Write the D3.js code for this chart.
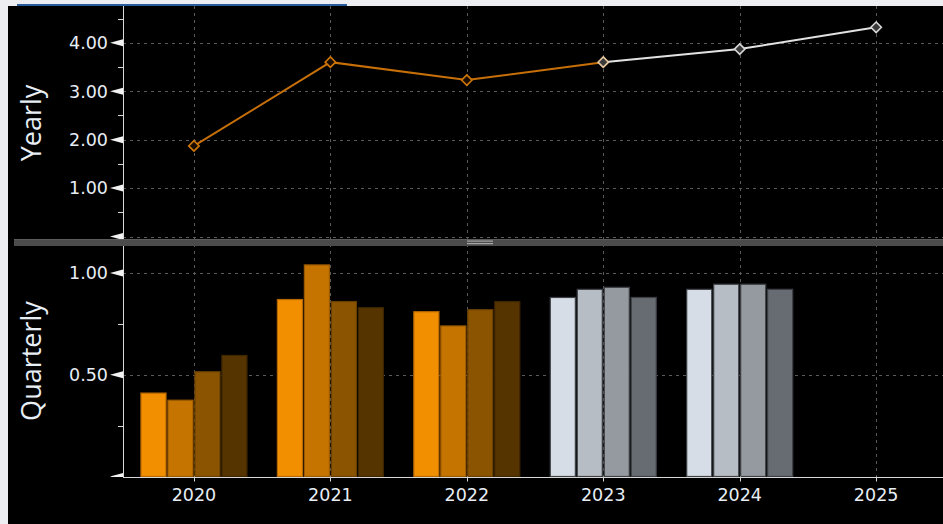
<!DOCTYPE html>
<html>
<head>
<meta charset="utf-8">
<script src="https://cdn.jsdelivr.net/npm/d3@7"></script>
<style>
  body { margin: 0; background: #eceef1; }
  svg { display: block; }
  .tick-label { fill: #e8eef5; font-family: "DejaVu Sans", sans-serif; font-size: 17.5px; }
  .title { fill: #e8eef5; font-family: "Open Sans", sans-serif; font-size: 27px; }
</style>
</head>
<body>
<div id="chart"></div>
<script>
// yearly values (line, top panel)
const years = [2020, 2021, 2022, 2023, 2024, 2025];
const yearlyValues = [1.87, 3.60, 3.23, 3.60, 3.87, 4.32];
const yearlyTicks = [1, 2, 3, 4];
const firstEstimateYear = 2023;

// quarterly values (bars, bottom panel)
const quarters = ["Q1", "Q2", "Q3", "Q4"];
const barYears = [2020, 2021, 2022, 2023, 2024];
const q1 = [0.41, 0.87, 0.81, 0.88, 0.92];
const q2 = [0.375, 1.04, 0.74, 0.92, 0.945];
const q3 = [0.515, 0.86, 0.82, 0.93, 0.945];
const q4 = [0.595, 0.83, 0.86, 0.88, 0.92];
const quarterlyTicks = [0.5, 1.0];

const actualFill = ["#f18f00", "#c57400", "#8b5400", "#553400"];
const actualStroke = ["#b86800", "#9a5a00", "#6a4000", "#3e2600"];
const estFill = ["#d6dde6", "#b6bdc4", "#949a9f", "#676b72"];
const estStroke = ["#3c3f44", "#3c3f44", "#3c3f44", "#3c3f44"];

const width = 943, height = 524;
const axisX = 123;

const svg = d3.select("#chart").append("svg")
    .attr("width", width)
    .attr("height", height);

// frame
svg.append("rect")
    .attr("x", 8).attr("y", 6)
    .attr("width", width - 8).attr("height", height - 6)
    .attr("fill", "#000");
svg.append("rect")
    .attr("x", 17).attr("y", 4)
    .attr("width", 330).attr("height", 2)
    .attr("fill", "#2b5c9c");

const x = d3.scaleLinear().domain([2019.48, 2025.49]).range([axisX, width]);
const yTop = d3.scaleLinear().domain([0, 4.78]).range([236.5, 5]);
const yBot = d3.scaleLinear().domain([0, 1.133]).range([476.5, 246]);

const defs = svg.append("defs");
defs.append("clipPath").attr("id", "clipTop")
    .append("rect").attr("x", 0).attr("y", 6).attr("width", width).attr("height", 233);
defs.append("clipPath").attr("id", "clipBot")
    .append("rect").attr("x", 0).attr("y", 246).attr("width", width).attr("height", 231);

const grid = svg.append("g")
    .attr("stroke", "#5a5a5a")
    .attr("stroke-dasharray", "3,4")
    .attr("stroke-width", 1);

// vertical grid through both panels
grid.selectAll("line.v")
    .data(years)
    .join("line")
    .attr("class", "v")
    .attr("x1", d => Math.round(x(d)) + 0.5)
    .attr("x2", d => Math.round(x(d)) + 0.5)
    .attr("y1", 6)
    .attr("y2", yBot(0));

grid.selectAll("line.ht")
    .data([0].concat(yearlyTicks))
    .join("line")
    .attr("class", "ht")
    .attr("x1", axisX).attr("x2", width)
    .attr("y1", d => Math.round(yTop(d)) + 0.5)
    .attr("y2", d => Math.round(yTop(d)) + 0.5);

grid.selectAll("line.hb")
    .data(quarterlyTicks)
    .join("line")
    .attr("class", "hb")
    .attr("x1", axisX).attr("x2", width)
    .attr("y1", d => Math.round(yBot(d)) + 0.5)
    .attr("y2", d => Math.round(yBot(d)) + 0.5);

// bars
const qScale = d3.scaleBand()
    .domain(quarters)
    .range([-53, 53])
    .paddingInner(0.07);

const quarterSeries = [q1, q2, q3, q4];
const barData = [];
barYears.forEach((yr, i) => {
    quarters.forEach((q, j) => {
        barData.push({ year: yr, quarter: q, qi: j, value: quarterSeries[j][i] });
    });
});

svg.append("g")
    .attr("clip-path", "url(#clipBot)")
    .selectAll("rect")
    .data(barData)
    .join("rect")
    .attr("x", d => x(d.year) + qScale(d.quarter))
    .attr("width", qScale.bandwidth())
    .attr("y", d => yBot(d.value))
    .attr("height", d => yBot(0) - yBot(d.value))
    .attr("fill", d => d.year >= firstEstimateYear ? estFill[d.qi] : actualFill[d.qi])
    .attr("stroke", d => d.year >= firstEstimateYear ? estStroke[d.qi] : actualStroke[d.qi])
    .attr("stroke-width", 1.2);

// yearly line
const line = d3.line()
    .x(d => x(d.year))
    .y(d => yTop(d.value));

const lineData = years.map((yr, i) => ({ year: yr, value: yearlyValues[i] }));
const actualPart = lineData.filter(d => d.year <= firstEstimateYear);
const estPart = lineData.filter(d => d.year >= firstEstimateYear);

const topPanel = svg.append("g").attr("clip-path", "url(#clipTop)");

topPanel.append("path")
    .datum(actualPart)
    .attr("d", line)
    .attr("fill", "none")
    .attr("stroke", "#c76f08")
    .attr("stroke-width", 2);

topPanel.append("path")
    .datum(estPart)
    .attr("d", line)
    .attr("fill", "none")
    .attr("stroke", "#e2e2e2")
    .attr("stroke-width", 2);

const diamond = d3.symbol().type(d3.symbolDiamond2).size(70);
topPanel.selectAll("path.marker")
    .data(lineData)
    .join("path")
    .attr("class", "marker")
    .attr("transform", d => `translate(${x(d.year)},${yTop(d.value)})`)
    .attr("d", diamond)
    .attr("fill", d => d.year < firstEstimateYear ? "#1a0d00" : "#3a3a3a")
    .attr("stroke", d => d.year < firstEstimateYear ? "#d0770a" : (d.year === firstEstimateYear ? "#e8c8a0" : "#d8d8d8"))
    .attr("stroke-width", 1.6);

// separator between panels
svg.append("rect")
    .attr("x", 14).attr("y", 239)
    .attr("width", width - 14).attr("height", 7)
    .attr("fill", "#4b4b4b");
svg.append("rect")
    .attr("x", 14).attr("y", 239)
    .attr("width", width - 14).attr("height", 1)
    .attr("fill", "#5c5c5c");
svg.append("rect").attr("x", 467).attr("y", 240.5).attr("width", 26).attr("height", 1.2).attr("fill", "#a8a8a8");
svg.append("rect").attr("x", 467).attr("y", 243).attr("width", 26).attr("height", 1.2).attr("fill", "#a8a8a8");

// y axes
const axisColor = "#d8d8d8";
const drawYAxis = (scale, y0, y1, majors, minors, clipId) => {
    const g = svg.append("g").attr("clip-path", `url(#${clipId})`);
    g.append("line")
        .attr("x1", axisX + 0.5).attr("x2", axisX + 0.5)
        .attr("y1", y0).attr("y2", y1)
        .attr("stroke", axisColor);
    g.selectAll("line.minor")
        .data(minors)
        .join("line")
        .attr("class", "minor")
        .attr("x1", axisX - 5).attr("x2", axisX)
        .attr("y1", d => Math.round(scale(d)) + 0.5)
        .attr("y2", d => Math.round(scale(d)) + 0.5)
        .attr("stroke", axisColor);
    g.selectAll("path.major")
        .data([0].concat(majors))
        .join("path")
        .attr("class", "major")
        .attr("d", d => {
            const yy = scale(d);
            return `M${axisX},${yy - 3.5}L${axisX - 13},${yy}L${axisX},${yy + 3.5}Z`;
        })
        .attr("fill", "#f2f2f2");
    svg.selectAll(null)
        .data(majors)
        .join("text")
        .attr("class", "tick-label")
        .attr("x", axisX - 15)
        .attr("y", d => scale(d))
        .attr("dy", "0.36em")
        .attr("text-anchor", "end")
        .text(d => d.toFixed(2));
};

drawYAxis(yTop, 6, 239, yearlyTicks, [0.5, 1.5, 2.5, 3.5, 4.5], "clipTop");
drawYAxis(yBot, 246, yBot(0) + 1, quarterlyTicks, [0.25, 0.75], "clipBot");

// x axis
svg.append("line")
    .attr("x1", axisX).attr("x2", width)
    .attr("y1", Math.round(yBot(0)) + 0.5).attr("y2", Math.round(yBot(0)) + 0.5)
    .attr("stroke", axisColor);

svg.selectAll("line.xtick")
    .data(years)
    .join("line")
    .attr("class", "xtick")
    .attr("x1", d => Math.round(x(d)) + 0.5)
    .attr("x2", d => Math.round(x(d)) + 0.5)
    .attr("y1", yBot(0))
    .attr("y2", yBot(0) + 5)
    .attr("stroke", axisColor);

svg.selectAll("text.xlabel")
    .data(years)
    .join("text")
    .attr("class", "tick-label xlabel")
    .attr("x", d => x(d))
    .attr("y", 501)
    .attr("text-anchor", "middle")
    .style("font-size", "17.5px")
    .text(d => d);

// panel titles
svg.append("text")
    .attr("class", "title")
    .attr("transform", "translate(41,123) rotate(-90)")
    .attr("text-anchor", "middle")
    .text("Yearly");

svg.append("text")
    .attr("class", "title")
    .attr("transform", "translate(41,361) rotate(-90)")
    .attr("text-anchor", "middle")
    .text("Quarterly");
</script>
</body>
</html>
